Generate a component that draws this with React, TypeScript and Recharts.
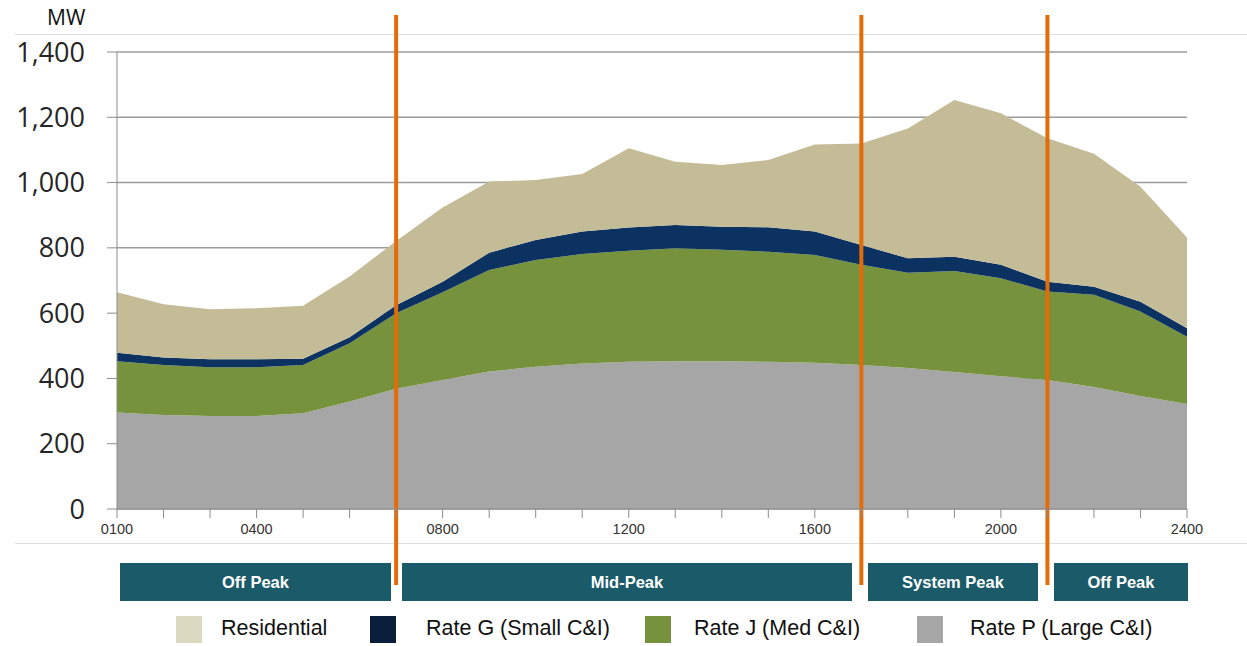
import React from 'react';
import {
  AreaChart,
  Area,
  XAxis,
  YAxis,
  CartesianGrid,
  ReferenceLine,
} from 'recharts';

const hours = [
  '0100', '0200', '0300', '0400', '0500', '0600', '0700', '0800',
  '0900', '1000', '1100', '1200', '1300', '1400', '1500', '1600',
  '1700', '1800', '1900', '2000', '2100', '2200', '2300', '2400',
];
const shownHours = ['0100', '0400', '0800', '1200', '1600', '2000', '2400'];

// MW by customer class, stacked bottom to top
const rateP = [296, 288, 285, 285, 293, 329, 368, 395, 421, 436, 446, 451, 453, 453, 451, 448, 441, 432, 420, 407, 395, 374, 346, 322];
const rateJ = [157, 153, 149, 149, 148, 179, 232, 269, 311, 327, 335, 340, 346, 341, 337, 330, 307, 292, 309, 300, 271, 282, 259, 206];
const rateG = [26, 23, 25, 25, 19, 18, 24, 32, 53, 61, 69, 71, 71, 71, 75, 72, 61, 44, 44, 41, 30, 25, 30, 26];
const residential = [185, 163, 153, 156, 163, 186, 197, 228, 218, 184, 176, 243, 194, 189, 206, 267, 311, 398, 480, 464, 440, 407, 352, 278];

const yTicks = [0, 200, 400, 600, 800, 1000, 1200, 1400];
const periodBreaks = ['0700', '1700', '2100'];
const periodLabels = ['Off Peak', 'Mid-Peak', 'System Peak', 'Off Peak'];

const data = hours.map((h, i) => ({
  hour: h,
  rateP: rateP[i],
  rateJ: rateJ[i],
  rateG: rateG[i],
  residential: residential[i],
}));

const series = [
  { key: 'rateP', name: 'Rate P (Large C&I)', fill: '#a6a6a6', swatch: '#a6a6a6' },
  { key: 'rateJ', name: 'Rate J (Med C&I)', fill: '#76923c', swatch: '#76923c' },
  { key: 'rateG', name: 'Rate G (Small C&I)', fill: '#0b3261', swatch: '#0b1e3c' },
  { key: 'residential', name: 'Residential', fill: '#c4bb97', swatch: '#dcd9c1' },
];

// positions of the boxes / legend under the chart
const periodBoxes = [
  { left: 120, width: 271 },
  { left: 402, width: 450 },
  { left: 868, width: 170 },
  { left: 1054, width: 134 },
];
const legendX = [
  { swatch: 176, text: 221 },
  { swatch: 370, text: 426 },
  { swatch: 645, text: 694 },
  { swatch: 917, text: 970 },
];

const XTick = (props: any) => {
  const { x, y, payload } = props;
  if (!shownHours.includes(payload.value)) return <g />;
  return (
    <text x={x} y={y} dy="0.71em" textAnchor="middle" fill="#333" fontSize={14.5} fontFamily="Liberation Sans, Arial, sans-serif">
      {payload.value}
    </text>
  );
};

export default function App() {
  const legendOrder = [series[3], series[2], series[1], series[0]];
  return (
    <div style={{ position: 'absolute', left: 0, top: 0, width: 1247, height: 646, background: '#fff', overflow: 'hidden' }}>
      <div style={{ position: 'absolute', left: 15, top: 34, width: 1232, height: 508, borderTop: '1px solid #e0e0e0', borderBottom: '1px solid #e0e0e0' }} />
      <div style={{ position: 'absolute', left: 47, top: 3, fontFamily: 'Open Sans, sans-serif', fontSize: 21, color: '#111' }}>MW</div>
      <AreaChart
        width={1247}
        height={600}
        data={data}
        margin={{ top: 52, right: 60, left: 0, bottom: 51 }}
        style={{ position: 'absolute', left: 0, top: 0 }}
      >
        <CartesianGrid vertical={false} stroke="#9b9b9b" strokeWidth={1.5} />
        <XAxis
          dataKey="hour"
          interval={0}
          height={40}
          tickSize={9}
          tickMargin={6}
          stroke="#8c8c8c"
          tick={<XTick />}
        />
        <YAxis
          width={117}
          domain={[0, 1400]}
          ticks={yTicks}
          tickSize={10}
          tickMargin={22}
          stroke="#8c8c8c"
          tick={{ fill: '#262626', fontSize: 27, fontFamily: 'Open Sans, sans-serif' }}
          tickFormatter={(v: number) => v.toLocaleString('en-US')}
        />
        {series.map((s) => (
          <Area
            key={s.key}
            type="linear"
            dataKey={s.key}
            name={s.name}
            stackId="mw"
            fill={s.fill}
            fillOpacity={1}
            stroke="none"
            isAnimationActive={false}
          />
        ))}
        {periodBreaks.map((h) => (
          <ReferenceLine
            key={h}
            segment={[{ x: h, y: 1513 }, { x: h, y: -233 }]}
            stroke="#e36c09"
            strokeWidth={4}
            ifOverflow="visible"
          />
        ))}
      </AreaChart>
      {periodLabels.map((label, i) => (
        <div
          key={i}
          style={{
            position: 'absolute',
            left: periodBoxes[i].left,
            top: 563,
            width: periodBoxes[i].width,
            height: 38,
            background: '#1b5b69',
            color: '#fff',
            fontFamily: 'Liberation Sans, Arial, sans-serif',
            fontWeight: 'bold',
            fontSize: 16.5,
            display: 'flex',
            alignItems: 'center',
            justifyContent: 'center',
          }}
        >
          {label}
        </div>
      ))}
      {legendOrder.map((s, i) => (
        <React.Fragment key={s.key}>
          <div style={{ position: 'absolute', left: legendX[i].swatch, top: 616, width: 26, height: 27, background: s.swatch }} />
          <div
            style={{
              position: 'absolute',
              left: legendX[i].text,
              top: 616,
              fontFamily: 'Liberation Sans, Arial, sans-serif',
              fontSize: 21.5,
              color: '#111',
              whiteSpace: 'nowrap',
            }}
          >
            {s.name}
          </div>
        </React.Fragment>
      ))}
    </div>
  );
}
